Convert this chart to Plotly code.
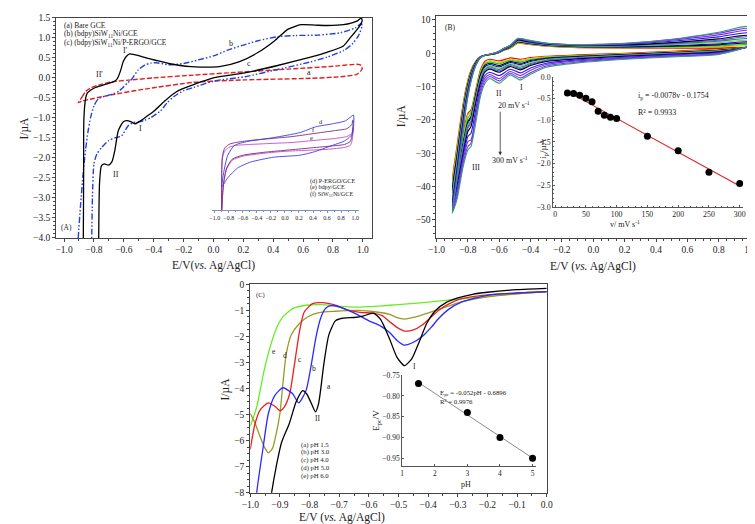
import plotly.graph_objects as go

W, H = 755, 524
FONT = "Liberation Serif"


def PX(x):
    return x / W


def PY(y):
    return 1 - y / H


# ---------------- Panel A : CVs (main) ----------------
A_a_x = [-0.905, -0.88, -0.856, -0.82, -0.77, -0.68, -0.57, -0.4, -0.134, 0.2, 0.5, 0.8, 0.96, 0.99, 0.995,
         0.96, 0.85, 0.65, 0.21, -0.134, -0.46, -0.68, -0.81, -0.88, -0.905]
A_a_y = [-0.62, -0.48, -0.34, -0.25, -0.18, -0.10, -0.055, 0.0, 0.07, 0.15, 0.22, 0.29, 0.34, 0.31, 0.22,
         0.09, 0.03, -0.01, -0.05, -0.11, -0.28, -0.42, -0.52, -0.58, -0.62]

A_b_x = [-0.912, -0.905, -0.89, -0.87, -0.856, -0.84, -0.823, -0.8, -0.77, -0.72, -0.67, -0.63, -0.6, -0.575,
         -0.55, -0.506, -0.46, -0.42, -0.38, -0.3, -0.2, -0.1, 0.0, 0.1, 0.2, 0.3, 0.43, 0.55, 0.7, 0.85,
         0.95, 0.99, 0.995, 0.97, 0.93, 0.87, 0.76, 0.65, 0.43, 0.21, 0.0, -0.134, -0.2, -0.266, -0.31,
         -0.353, -0.418, -0.46, -0.5, -0.54, -0.572, -0.615, -0.66, -0.703, -0.746, -0.78, -0.8, -0.81,
         -0.815, -0.82, -0.912]
A_b_y = [-4.6, -4.0, -3.2, -2.3, -1.8, -1.35, -1.0, -0.7, -0.52, -0.45, -0.4, -0.32, -0.22, -0.12,
         -0.05, 0.19, 0.32, 0.37, 0.38, 0.33, 0.36, 0.45, 0.55, 0.7, 0.82, 0.93, 1.03, 1.06, 1.07, 1.13,
         1.25, 1.36, 1.3, 1.05, 0.85, 0.68, 0.52, 0.40, 0.21, 0.03, -0.08, -0.24, -0.32, -0.47, -0.62,
         -0.82, -0.99, -1.06, -1.1, -1.12, -1.2, -1.45, -1.5, -1.57, -1.73, -1.9, -2.15, -3.0,
         -4.0, -4.6, -4.6]

A_c_x = [-0.873, -0.871, -0.869, -0.867, -0.855, -0.845, -0.82, -0.79, -0.725, -0.67, -0.65, -0.637, -0.62,
         -0.605, -0.585, -0.56, -0.53, -0.484, -0.43, -0.375, -0.3, -0.222, -0.15, -0.09, 0.04, 0.17, 0.3,
         0.41, 0.5, 0.587, 0.68, 0.762, 0.87, 0.96, 0.99, 0.995, 0.97, 0.915, 0.87, 0.76, 0.65, 0.43, 0.21,
         0.0, -0.134, -0.245, -0.33, -0.397, -0.46, -0.5, -0.525, -0.55, -0.582, -0.605, -0.637, -0.66,
         -0.68, -0.703, -0.73, -0.75, -0.762, -0.766, -0.768, -0.77, -0.873]
A_c_y = [-4.6, -4.0, -2.5, -1.0, -0.5, -0.38, -0.3, -0.24, -0.16, -0.1, -0.05, 0.03, 0.2,
         0.4, 0.53, 0.6, 0.58, 0.54, 0.48, 0.43, 0.36, 0.31, 0.28, 0.27, 0.28, 0.4, 0.64,
         0.93, 1.22, 1.33, 1.32, 1.31, 1.33, 1.42, 1.5, 1.42, 1.25, 1.0, 0.8, 0.64, 0.52, 0.31, 0.125,
         0.0, -0.17, -0.34, -0.59, -0.83, -1.0, -1.1, -1.15, -1.1, -1.07, -1.1, -1.32, -1.81,
         -2.1, -2.18, -2.15, -2.2, -2.6, -3.2, -4.0, -4.6, -4.6]

# ---------------- Panel A : inset (d, e, f) ----------------
A_d_x = [-0.898, -0.86, -0.814, -0.72, -0.535, -0.16, 0.21, 0.44, 0.675, 0.86, 0.953, 0.977, 0.963, 0.86,
         0.675, 0.395, 0.21, -0.16, -0.49, -0.674, -0.814, -0.898]
A_d_u = [24, 43, 56, 66, 70, 74, 79, 85, 88, 91, 96, 97, 78, 71, 66, 59, 56, 54, 49, 43, 33, 24]
A_f_x = [-0.9, -0.9, -0.89, -0.86, -0.8, -0.7, -0.5, -0.2, 0.1, 0.4, 0.7, 0.88, 0.95, 0.97, 0.96, 0.93,
         0.85, 0.6, 0.3, 0.0, -0.3, -0.6, -0.75, -0.83, -0.87, -0.89, -0.9]
A_f_u = [0, 40, 55, 63, 67, 69, 71, 73, 75, 78, 81, 83, 87, 92, 78, 70, 67, 65, 63, 61, 59, 56, 52, 43,
         30, 15, 0]
A_e_x = [-0.9, -0.9, -0.89, -0.86, -0.8, -0.7, -0.5, -0.2, 0.1, 0.4, 0.7, 0.88, 0.95, 0.97, 0.96, 0.93,
         0.85, 0.6, 0.3, 0.0, -0.3, -0.6, -0.75, -0.83, -0.87, -0.89, -0.9]
A_e_u = [0, 40, 53, 60, 64, 66, 67, 68, 69, 71, 73, 75, 78, 84, 72, 66, 64, 62, 61, 60, 58, 55, 51, 42,
         28, 12, 0]

# ---------------- Panel B : scan-rate CVs ----------------
B_rates = [20, 30, 40, 50, 60, 70, 80, 90, 100, 150, 200, 250, 300]
B_cath_x = [1.0, 0.8, 0.5, 0.2, -0.1, -0.3, -0.4, -0.465, -0.53, -0.6, -0.66, -0.69, -0.72, -0.75, -0.78,
            -0.8, -0.83, -0.87, -0.9]
B_anod_x = [-0.9, -0.87, -0.84, -0.81, -0.78, -0.75, -0.72, -0.69, -0.64, -0.6, -0.57, -0.53, -0.48, -0.42,
            -0.3, -0.1, 0.2, 0.5, 0.8, 1.0]
B_cath_y = [
    [1.8, 1.3, 0.6, 0.0, -0.5, -0.9, -1.3, -1.8, -1.4, -2.3, -1.8, -2.4, -5, -11, -17, -18, -24, -33, -38],
    [1.9, 1.1, 0.4, -0.2, -0.7, -1.1, -1.6, -2.2, -1.8, -2.8, -2.2, -2.8, -5.5, -11.5, -17.5, -18.5, -25, -34, -39],
    [2.0, 1.0, 0.3, -0.3, -0.8, -1.3, -1.9, -2.6, -2.1, -3.2, -2.6, -3.2, -6, -12, -18, -19.5, -26, -35, -40],
    [2.0, 0.9, 0.2, -0.4, -1.0, -1.5, -2.2, -3.0, -2.5, -3.7, -3.0, -3.6, -6.5, -12.5, -19, -20.5, -27, -36, -41],
    [2.1, 0.8, 0.1, -0.5, -1.1, -1.7, -2.5, -3.4, -2.8, -4.1, -3.4, -4.0, -7, -13, -19.5, -21, -27.5, -37, -42],
    [2.1, 0.7, 0.0, -0.6, -1.3, -1.9, -2.8, -3.8, -3.1, -4.5, -3.8, -4.4, -7.5, -13.5, -20, -21.5, -28, -38, -43],
    [2.2, 0.6, -0.1, -0.7, -1.4, -2.1, -3.1, -4.2, -3.4, -4.9, -4.1, -4.8, -8, -14, -20.5, -22, -28.5, -38.5, -44],
    [2.2, 0.5, -0.2, -0.8, -1.5, -2.3, -3.4, -4.6, -3.7, -5.3, -4.5, -5.2, -8.5, -14.5, -21, -22.5, -29, -39, -45],
    [2.3, 0.4, -0.3, -0.9, -1.7, -2.5, -3.7, -5.0, -4.0, -5.7, -4.8, -5.6, -9, -15, -22, -23.5, -30, -40, -45.5],
    [2.4, 0.2, -0.5, -1.2, -2.0, -3.0, -4.4, -5.9, -4.8, -6.7, -5.7, -6.6, -10, -17, -24, -25, -31, -41, -46],
    [2.5, 0.0, -0.7, -1.4, -2.3, -3.4, -5.1, -6.7, -5.5, -7.6, -6.4, -7.4, -11, -18.5, -26, -26.5, -32, -42, -47],
    [2.6, -0.2, -0.9, -1.6, -2.6, -3.8, -5.8, -7.4, -6.0, -8.3, -7.0, -8.2, -12, -19.5, -27, -28, -33, -43, -47.5],
    [2.7, -0.4, -1.1, -1.8, -2.9, -4.2, -6.3, -8.0, -6.5, -9.0, -7.6, -9.0, -13, -21, -28, -29, -34, -44, -48],
]
B_anod_y = [
    [-38, -28, -18, -10, -5.0, -2.4, -1.0, -0.6, -0.3, 0.2, 0.9, 1.5, 3.0, 2.7, 2.1, 1.7, 1.5, 1.5, 1.6, 1.8],
    [-39, -29, -19, -10.5, -5.3, -2.5, -1.0, -0.6, -0.3, 0.2, 1.0, 1.6, 3.1, 2.8, 2.2, 1.8, 1.6, 1.7, 1.9, 2.2],
    [-40, -30, -19.5, -11, -5.6, -2.6, -1.1, -0.6, -0.3, 0.3, 1.0, 1.7, 3.3, 2.9, 2.3, 1.9, 1.8, 1.9, 2.2, 2.5],
    [-41, -31, -20.5, -11.5, -5.9, -2.7, -1.1, -0.6, -0.3, 0.3, 1.1, 1.8, 3.4, 3.0, 2.4, 2.0, 1.9, 2.1, 2.5, 3.0],
    [-42, -32, -21, -12, -6.2, -2.9, -1.1, -0.6, -0.2, 0.3, 1.1, 1.9, 3.5, 3.1, 2.5, 2.1, 2.0, 2.3, 2.8, 3.3],
    [-43, -33, -22, -12.5, -6.5, -3.0, -1.2, -0.6, -0.2, 0.4, 1.2, 1.9, 3.6, 3.2, 2.6, 2.2, 2.2, 2.6, 3.2, 3.8],
    [-44, -34, -23, -13, -6.8, -3.1, -1.2, -0.6, -0.2, 0.4, 1.2, 2.0, 3.8, 3.3, 2.7, 2.3, 2.3, 2.8, 3.6, 4.3],
    [-45, -35, -23.5, -13.5, -7.0, -3.2, -1.2, -0.6, -0.2, 0.4, 1.3, 2.1, 3.9, 3.4, 2.7, 2.3, 2.4, 3.0, 3.9, 4.8],
    [-45.5, -35.5, -24, -14, -7.3, -3.3, -1.3, -0.6, -0.2, 0.5, 1.3, 2.1, 4.0, 3.5, 2.8, 2.4, 2.5, 3.2, 4.3, 5.3],
    [-46, -36, -25, -14.5, -7.6, -3.4, -1.3, -0.6, -0.1, 0.5, 1.4, 2.2, 4.2, 3.7, 2.9, 2.5, 2.7, 3.6, 4.9, 6.0],
    [-47, -37, -26, -15, -8.0, -3.6, -1.3, -0.6, -0.1, 0.6, 1.4, 2.3, 4.3, 3.8, 3.0, 2.5, 2.8, 3.9, 5.5, 6.8],
    [-47.5, -37.5, -26.5, -15.5, -8.2, -3.7, -1.4, -0.6, -0.1, 0.6, 1.5, 2.3, 4.4, 3.9, 3.0, 2.6, 2.9, 4.1, 6.0, 7.4],
    [-48, -38, -27, -16, -8.5, -3.8, -1.4, -0.6, -0.1, 0.6, 1.5, 2.4, 4.5, 4.0, 3.0, 2.6, 3.0, 4.2, 6.3, 8.0],
]
B_colors = ['#ff0000', '#d2d200', '#22cc22', '#000000', '#0000ff', '#9acd32', '#00a070', '#7f3fff',
            '#000000', '#1a1aff', '#8a2be2', '#7733ee', '#2e9e6e']

# ---------------- Panel B : inset ----------------
B_v = [20, 30, 40, 50, 60, 70, 80, 90, 100, 150, 200, 250, 300]
B_ip = [-0.37, -0.38, -0.42, -0.49, -0.57, -0.79, -0.88, -0.93, -0.96, -1.37, -1.70, -2.20, -2.46]
B_fit_v = [20, 300]
B_fit_ip = [-0.331, -2.515]

# ---------------- Panel C : pH study ----------------
C_a_x = [-0.935, -0.928, -0.912, -0.895, -0.868, -0.845, -0.823, -0.81, -0.796, -0.78, -0.77, -0.763, -0.752,
         -0.735, -0.713, -0.69, -0.65, -0.62, -0.585, -0.56, -0.53, -0.505, -0.48, -0.455, -0.43, -0.405,
         -0.375, -0.34, -0.3, -0.25, -0.2, -0.1, 0.0]
C_a_y = [-8.6, -8.0, -6.97, -6.09, -5.33, -4.5, -4.08, -4.2, -4.52, -4.9, -4.6, -4.08, -3.07,
         -1.94, -1.4, -1.3, -1.27, -1.22, -1.1, -1.35, -2.1, -2.8, -3.12, -2.85, -2.2, -1.5,
         -1.0, -0.7, -0.52, -0.38, -0.3, -0.2, -0.15]
C_b_x = [-0.985, -0.978, -0.956, -0.939, -0.917, -0.89, -0.857, -0.837, -0.812, -0.796, -0.779, -0.763, -0.748,
         -0.735, -0.715, -0.69, -0.64, -0.6, -0.56, -0.53, -0.505, -0.48, -0.455, -0.42, -0.39, -0.364, -0.33,
         -0.288, -0.2, -0.1, 0.0]
C_b_y = [-9.0, -7.97, -6.21, -4.96, -4.26, -3.97, -4.2, -4.55, -4.08, -3.2, -2.06, -1.31, -0.95,
         -0.83, -0.82, -0.9, -1.15, -1.4, -1.6, -1.85, -2.15, -2.33, -2.25, -2.0, -1.65, -1.3, -0.95,
         -0.68, -0.42, -0.33, -0.28]
C_c_x = [-1.0, -0.985, -0.967, -0.939, -0.915, -0.9, -0.885, -0.867, -0.851, -0.834, -0.818, -0.79, -0.757,
         -0.713, -0.67, -0.625, -0.585, -0.555, -0.53, -0.505, -0.48, -0.45, -0.42, -0.39, -0.364, -0.33,
         -0.288, -0.2, -0.1, 0.0]
C_c_y = [-6.34, -5.4, -4.83, -4.55, -4.7, -4.85, -4.7, -4.2, -3.07, -1.81, -1.06, -0.74, -0.7,
         -0.8, -0.99, -1.08, -1.1, -1.2, -1.43, -1.65, -1.79, -1.75, -1.56, -1.25, -0.99, -0.75,
         -0.55, -0.4, -0.33, -0.28]
C_d_x = [-1.0, -0.985, -0.967, -0.95, -0.939, -0.925, -0.91, -0.9, -0.89, -0.879, -0.862, -0.834, -0.807,
         -0.768, -0.713, -0.636, -0.58, -0.53, -0.505, -0.48, -0.45, -0.42, -0.364, -0.288, -0.2, -0.1, 0.0]
C_d_y = [-4.96, -5.3, -5.84, -6.3, -6.47, -6.3, -5.6, -4.96, -3.82, -2.69, -1.94, -1.5, -1.25,
         -1.08, -1.03, -1.0, -1.05, -1.15, -1.28, -1.33, -1.27, -1.17, -0.96, -0.67, -0.48, -0.36, -0.29]
C_e_x = [-1.0, -0.978, -0.956, -0.934, -0.912, -0.89, -0.857, -0.812, -0.757, -0.7, -0.64, -0.58, -0.53,
         -0.47, -0.4, -0.3, -0.2, -0.1, 0.0]
C_e_y = [-5.45, -4.7, -3.45, -2.44, -1.69, -1.25, -0.93, -0.8, -0.78, -0.84, -0.87, -0.84, -0.8,
         -0.75, -0.68, -0.57, -0.46, -0.36, -0.28]

# ---------------- Panel C : inset ----------------
C_pH = [1.5, 3, 4, 5]
C_Epc = [-0.77, -0.84, -0.90, -0.95]
C_fit_pH = [1.5, 5]
C_fit_E = [-0.7676, -0.9496]

fig = go.Figure()


def add_line(x, y, xa, ya, color, width=1.2, dash=None, smoothing=0.6):
    fig.add_trace(go.Scatter(
        x=x, y=y, xaxis=xa, yaxis=ya, mode='lines',
        line=dict(color=color, width=width, dash=dash, shape='spline', smoothing=smoothing),
        showlegend=False, hoverinfo='skip'))


# Panel A
add_line(A_a_x, A_a_y, 'x', 'y', '#dd2222', 1.4, '5px,2px')
add_line(A_b_x, A_b_y, 'x', 'y', '#2040dd', 1.4, '6px,2px,1.5px,2px,1.5px,2px')
add_line(A_c_x, A_c_y, 'x', 'y', '#000000', 1.3)
# Panel A inset
add_line(A_e_x, A_e_u, 'x2', 'y2', '#cc44cc', 0.9)
add_line(A_f_x, A_f_u, 'x2', 'y2', '#7a2e6e', 0.9)
add_line(A_d_x, A_d_u, 'x2', 'y2', '#3b3bf0', 0.9)

# Panel B
for i in range(len(B_rates)):
    xs = B_cath_x + B_anod_x[1:] + [1.0]
    ys = B_cath_y[i] + B_anod_y[i][1:] + [B_cath_y[i][0]]
    add_line(xs, ys, 'x3', 'y3', B_colors[i], 1.1)
# Panel B inset
fig.add_trace(go.Scatter(x=B_fit_v, y=B_fit_ip, xaxis='x4', yaxis='y4', mode='lines',
                         line=dict(color='#e02020', width=1.1), showlegend=False, hoverinfo='skip'))
fig.add_trace(go.Scatter(x=B_v, y=B_ip, xaxis='x4', yaxis='y4', mode='markers',
                         marker=dict(color='#000000', size=7), showlegend=False, hoverinfo='skip'))

# Panel C
add_line(C_e_x, C_e_y, 'x5', 'y5', '#66ee22', 1.3)
add_line(C_d_x, C_d_y, 'x5', 'y5', '#9a9a22', 1.3)
add_line(C_c_x, C_c_y, 'x5', 'y5', '#e82020', 1.3)
add_line(C_b_x, C_b_y, 'x5', 'y5', '#2a2aff', 1.3)
add_line(C_a_x, C_a_y, 'x5', 'y5', '#000000', 1.3)
# Panel C inset
fig.add_trace(go.Scatter(x=C_fit_pH, y=C_fit_E, xaxis='x6', yaxis='y6', mode='lines',
                         line=dict(color='#8a8a8a', width=1), showlegend=False, hoverinfo='skip'))
fig.add_trace(go.Scatter(x=C_pH, y=C_Epc, xaxis='x6', yaxis='y6', mode='markers',
                         marker=dict(color='#000000', size=7), showlegend=False, hoverinfo='skip'))


def axis(domain, rng, anchor, dtick, fmt, minor=None, size=9.5, mirror=True, ticks='outside',
         tick0=0, linecolor='#444444', visible=True, ticklen=3):
    d = dict(domain=domain, range=rng, anchor=anchor, showline=True, mirror=mirror,
             linecolor=linecolor, linewidth=1, ticks=ticks, ticklen=ticklen, tickwidth=1,
             tickcolor=linecolor, dtick=dtick, tick0=tick0, tickformat=fmt, showgrid=False,
             zeroline=False, tickfont=dict(family=FONT, size=size, color='#222222'),
             visible=visible, fixedrange=True)
    if minor:
        d['minor'] = dict(ticks=ticks, ticklen=max(1, ticklen - 1), dtick=minor,
                          tickcolor=linecolor, showgrid=False)
    return d


layout = dict(
    width=W, height=H, margin=dict(l=0, r=0, t=0, b=0),
    paper_bgcolor='white', plot_bgcolor='rgba(0,0,0,0)', showlegend=False,
    font=dict(family=FONT, color='#222222'),
    xaxis=axis([PX(40), PX(362)], [-1.0525, 1.06], 'y', 0.2, '.1f', 0.1),
    yaxis=axis([PY(229.3), PY(5)], [-4, 1.5], 'x', 0.5, '.1f', 0.1),
    xaxis2=axis([PX(199), PX(349)], [-1.038, 1.056], 'y2', 0.2, '.1f', 0.1, size=6,
                mirror=False, linecolor='#8090c0', ticklen=2),
    yaxis2=axis([PY(201), PY(101)], [0, 100], 'x2', 20, '', visible=False),
    xaxis3=axis([PX(428), PX(748)], [-1.0, 1.0], 'y3', 0.2, '.1f', 0.05),
    yaxis3=axis([PY(229.3), PY(3.3)], [-55.4, 11.1], 'x3', 10, 'd', 2),
    xaxis4=axis([PX(547), PX(741)], [-3.2, 305.8], 'y4', 50, 'd', 10, size=7.8, mirror=False,
                ticks='inside', ticklen=2, linecolor='#555555'),
    yaxis4=axis([PY(197.7), PY(65.3)], [-3.0, 0.0], 'x4', 0.5, '.1f', 0.1, size=7.8, mirror=False,
                ticks='inside', ticklen=2, linecolor='#555555'),
    xaxis5=axis([PX(238), PX(540.5)], [-1.0, 0.0], 'y5', 0.1, '.1f', 0.05),
    yaxis5=axis([PY(489), PY(276.7)], [-8, 0], 'x5', 1, 'd', 0.25),
    xaxis6=axis([PX(393), PX(530)], [1, 5.12], 'y6', 1, 'd', None, size=7.5, mirror=False,
                ticks='inside', ticklen=2, linecolor='#555555'),
    yaxis6=axis([PY(462), PY(369)], [-0.969, -0.7495], 'x6', 0.05, '.2f', None, size=7.5,
                mirror=False, ticks='inside', ticklen=2, linecolor='#555555', tick0=-0.75),
)
fig.update_layout(**layout)


def txt(t, x, y, size=8.0, xanchor='center', angle=0, color='#222222'):
    fig.add_annotation(text=t, x=PX(x), y=PY(y), xref='paper', yref='paper', showarrow=False,
                       xanchor=xanchor, yanchor='middle', textangle=angle,
                       font=dict(family=FONT, size=size, color=color))


# Axis titles
txt('E/V(<i>vs.</i> Ag/AgCl)', 200, 257, 11.5)
txt('I/µA', 8, 117, 11.5, angle=-90)
txt('E/V (<i>vs.</i> Ag/AgCl)', 588, 258, 11.5)
txt('I/µA', 393, 105, 11.5, angle=-90)
txt('E/V (<i>vs.</i> Ag/AgCl)', 332, 514, 11.5)
txt('I/µA', 213, 383, 11.5, angle=-90)
txt('v/ mV s<sup>-1</sup>', 620, 215, 8)
txt('i<sub>p</sub>/µA', 537, 138, 9, angle=-90)
txt('pH', 458, 481, 8)
txt('E<sub>pc</sub>/V', 366, 415, 9, angle=-90)

# Panel A labels
txt('(a) Bare GCE', 46, 12.5, 7.5, 'left')
txt('(b) (bdpy)SiW<sub>11</sub>Ni/GCE', 46, 21, 7.5, 'left')
txt('(c) (bdpy)SiW<sub>11</sub>Ni/P-ERGO/GCE', 46, 31, 7.5, 'left')
txt("I'", 111, 38, 8)
txt("II'", 84, 63, 8)
txt('b', 218, 31, 8)
txt('c', 237, 51, 8)
txt('a', 298, 61, 8)
txt('I', 126, 118, 8)
txt('II', 101, 165, 8)
txt('(A)', 51, 219, 7.5)
txt('d', 310, 111, 6.5)
txt('f', 303, 119, 6.5)
txt('e', 300, 127, 6.5)
txt('(d) P-ERGO/GCE', 297, 171, 6.2, 'left')
txt('(e) bdpy/GCE', 297, 177.7, 6.2, 'left')
txt('(f) SiW<sub>11</sub>Ni/GCE', 297, 184.5, 6.2, 'left')

# Panel B labels
txt('(B)', 442, 15, 7.5)
txt('II', 492, 82, 8)
txt('I', 515, 76, 8)
txt('20 mV s<sup>-1</sup>', 507, 94, 8)
txt('300 mV s<sup>-1</sup>', 503, 150, 8)
txt('III', 468, 157, 8)
txt('i<sub>p</sub> = -0.0078v - 0.1754', 632, 85, 8, 'left')
txt('R² = 0.9933', 632, 101, 8, 'left')
fig.add_annotation(x=PX(493), y=PY(145), ax=0, ay=-45, xref='paper', yref='paper',
                   axref='pixel', ayref='pixel', showarrow=True, arrowhead=2, arrowsize=0.9,
                   arrowwidth=0.8, arrowcolor='#333333', text='')

# Panel C labels
txt('(C)', 248, 287, 6.5)
txt('e', 262, 345, 7.5)
txt('d', 273, 349, 7.5)
txt('c', 289, 353, 7.5)
txt('b', 303, 362, 7.5)
txt('a', 318, 381, 7.5)
txt('II', 307, 413, 7.5)
txt('I', 406, 360, 7.5)
txt('(a) pH 1.5', 288, 440, 6.8, 'left')
txt('(b) pH 3.0', 288, 448, 6.8, 'left')
txt('(c) pH 4.0', 288, 456, 6.8, 'left')
txt('(d) pH 5.0', 288, 464, 6.8, 'left')
txt('(e) pH 6.0', 288, 472, 6.8, 'left')
txt('E<sub>pc</sub> = -0.052pH - 0.6896', 430, 387, 6.8, 'left')
txt('R² = 0.9976', 430, 396, 6.8, 'left')

fig.write_html("out.html")
